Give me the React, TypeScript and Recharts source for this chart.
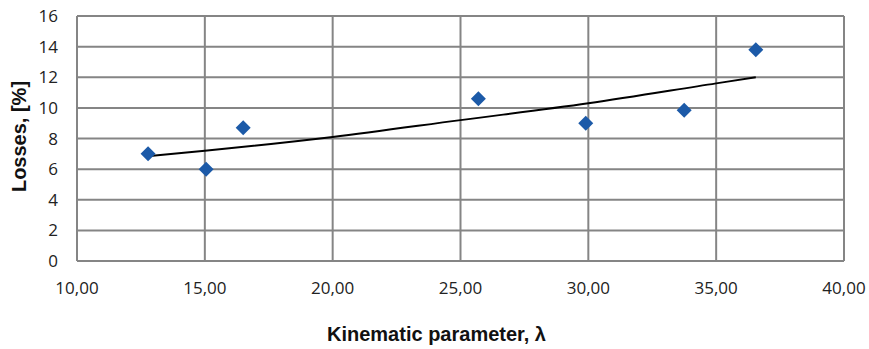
import React from "react";
import {
  ComposedChart,
  Scatter,
  Line,
  XAxis,
  YAxis,
  CartesianGrid,
  Label,
} from "recharts";

// measured points
const lambdaValues = [12.78, 15.05, 16.5, 25.7, 29.9, 33.75, 36.55];
const lossValues = [7.0, 6.0, 8.7, 10.6, 9.0, 9.85, 13.8];

// trend line
const trendLambda = [12.78, 15, 20, 25, 30, 35, 36.55];
const trendLoss = [6.85, 7.2, 8.1, 9.2, 10.3, 11.6, 12.0];

const xTicks = [10, 15, 20, 25, 30, 35, 40];
const yTicks = [0, 2, 4, 6, 8, 10, 12, 14, 16];

const points = lambdaValues.map((x, i) => ({ x, y: lossValues[i] }));
const trend = trendLambda.map((x, i) => ({ x, y: trendLoss[i] }));

const Diamond = (props: any) => {
  const { cx, cy } = props;
  const r = 7.5;
  return (
    <polygon
      points={`${cx},${cy - r} ${cx + r},${cy} ${cx},${cy + r} ${cx - r},${cy}`}
      fill="#1c5aa8"
    />
  );
};

const tickFont = { fontFamily: "'Open Sans', sans-serif", fontSize: 17, fill: "#222" };
const titleFont = "'Liberation Sans', Arial, sans-serif";

export default function App() {
  return (
    <div style={{ position: "absolute", left: 0, top: 0, width: 869, height: 349, background: "#fff" }}>
      <ComposedChart width={869} height={349} margin={{ top: 16, right: 25, bottom: 0, left: 0 }}>
        <CartesianGrid stroke="#858585" strokeWidth={2} />
        <XAxis
          type="number"
          dataKey="x"
          domain={[10, 40]}
          ticks={xTicks}
          tickFormatter={(v: number) => v.toFixed(2).replace(".", ",")}
          axisLine={false}
          tickLine={false}
          tickSize={0}
          tickMargin={21}
          height={88}
          tick={tickFont}
          interval={0}
        >
          <Label
            content={({ viewBox }: any) => (
              <text
                x={viewBox.x + viewBox.width / 2 - 24}
                y={341}
                textAnchor="middle"
                fontFamily={titleFont}
                fontWeight="bold"
                fontSize={20}
                fill="#111"
              >
                Kinematic parameter, λ
              </text>
            )}
          />
        </XAxis>
        <YAxis
          type="number"
          dataKey="y"
          domain={[0, 16]}
          ticks={yTicks}
          axisLine={false}
          tickLine={false}
          tickSize={0}
          tickMargin={19}
          width={77}
          tick={tickFont}
          interval={0}
        >
          <Label
            content={({ viewBox }: any) => {
              const cy = viewBox.y + viewBox.height / 2 - 2;
              return (
                <text
                  x={26}
                  y={cy}
                  transform={`rotate(-90, 26, ${cy})`}
                  textAnchor="middle"
                  fontFamily={titleFont}
                  fontWeight="bold"
                  fontSize={20}
                  fill="#111"
                >
                  Losses, [%]
                </text>
              );
            }}
          />
        </YAxis>
        <Line
          data={trend}
          dataKey="y"
          type="monotone"
          stroke="#000"
          strokeWidth={2}
          dot={false}
          activeDot={false}
          isAnimationActive={false}
        />
        <Scatter data={points} dataKey="y" shape={<Diamond />} isAnimationActive={false} />
      </ComposedChart>
    </div>
  );
}
